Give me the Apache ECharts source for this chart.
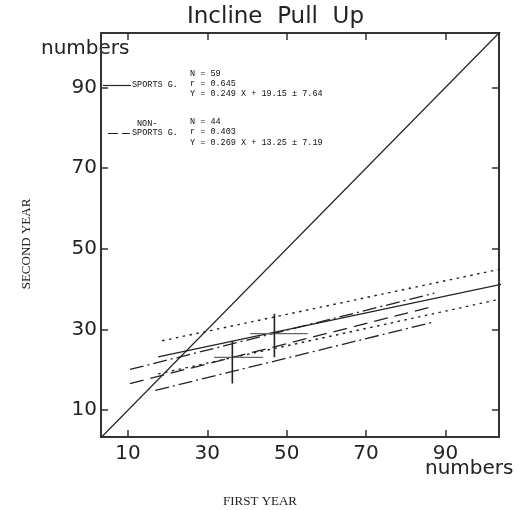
<!DOCTYPE html>
<html>
<head>
<meta charset="utf-8">
<script src="https://cdn.jsdelivr.net/npm/echarts@6/dist/echarts.min.js"></script>
<style>
  html, body { margin: 0; padding: 0; background: #fff; }
  #chart { width: 532px; height: 510px; }
</style>
</head>
<body>
<div id="chart"></div>
<script>
  // tick values (both axes)
  const xTicks = [10, 30, 50, 70, 90]
  const yTicks = [10, 30, 50, 70, 90]

  // line of equality
  const identity = [[0, 0], [110, 110]]

  // sports group: regression and band
  const sportsReg = [[17.6, 23.2], [104, 41.2]]
  const sportsUpper = [[18.6, 27.2], [104, 45.0]]
  const sportsLower = [[17.6, 19.0], [103.7, 37.5]]

  // non-sports group: regression and band
  const nonReg = [[10.5, 16.6], [87.2, 35.8]]
  const nonUpper = [[10.5, 20.1], [87.2, 39.0]]
  const nonLower = [[16.9, 14.9], [87.2, 31.9]]

  // means with SD bars
  const sportsMean = [46.9, 29.0]
  const sportsSdX = [40.8, 55.3]
  const sportsSdY = [23.1, 33.9]
  const nonMean = [36.3, 23.1]
  const nonSdX = [31.7, 44.0]
  const nonSdY = [16.6, 27.2]

  const ink = '#222'
  const mono = '"Liberation Mono", "DejaVu Sans Mono", monospace'
  const sans = '"DejaVu Sans", sans-serif'
  const serif = '"Liberation Serif", "DejaVu Serif", serif'

  function line (data, type, width, color) {
    return {
      type: 'line',
      data: data,
      symbol: 'none',
      silent: true,
      clip: true,
      lineStyle: { color: color || ink, width: width || 1.2, type: type || 'solid' }
    }
  }

  const chart = echarts.init(document.getElementById('chart'))

  const axisLine = { show: true, onZero: false, lineStyle: { color: '#333', width: 2 } }
  const tick = { show: true, inside: true, length: 7, customValues: xTicks, lineStyle: { color: '#333', width: 1.5 } }

  chart.setOption({
    animation: false,
    grid: { left: 101, top: 33, right: 33, bottom: 73 },
    xAxis: [
      {
        type: 'value', min: 3.2, max: 103.5, position: 'bottom',
        axisLine: axisLine, splitLine: { show: false },
        axisTick: tick,
        axisLabel: { customValues: xTicks, fontSize: 20, color: ink, fontFamily: sans, margin: 7 }
      },
      {
        type: 'value', min: 3.2, max: 103.5, position: 'top',
        axisLine: axisLine, splitLine: { show: false },
        axisTick: tick, axisLabel: { show: false }
      }
    ],
    yAxis: [
      {
        type: 'value', min: 3.35, max: 103.5, position: 'left',
        axisLine: axisLine, splitLine: { show: false },
        axisTick: Object.assign({}, tick, { customValues: yTicks }),
        axisLabel: { customValues: yTicks, fontSize: 20, color: ink, fontFamily: sans, margin: 4 }
      },
      {
        type: 'value', min: 3.35, max: 103.5, position: 'right',
        axisLine: axisLine, splitLine: { show: false },
        axisTick: Object.assign({}, tick, { customValues: yTicks }),
        axisLabel: { show: false }
      }
    ],
    series: [
      line(identity, 'solid', 1.3),
      line(sportsReg, 'solid', 1.3),
      line(sportsUpper, [2.5, 4.5], 1.4),
      line(sportsLower, [2.5, 4.5], 1.4),
      line(nonReg, [14, 7], 1.3),
      line(nonUpper, [14, 4, 2, 4], 1.3),
      line(nonLower, [14, 4, 2, 4], 1.3),
      line([[sportsSdX[0], sportsMean[1]], [sportsSdX[1], sportsMean[1]]], 'solid', 1.3, '#666'),
      line([[sportsMean[0], sportsSdY[0]], [sportsMean[0], sportsSdY[1]]], 'solid', 1.6),
      line([[nonSdX[0], nonMean[1]], [nonSdX[1], nonMean[1]]], 'solid', 1.3, '#666'),
      line([[nonMean[0], nonSdY[0]], [nonMean[0], nonSdY[1]]], 'solid', 1.6)
    ],
    graphic: [
      { type: 'text', left: 187, top: 6, style: { text: 'Incline  Pull  Up', fontSize: 23, fontFamily: sans, fill: ink } },
      { type: 'text', left: 41, top: 39, style: { text: 'numbers', fontSize: 20, fontFamily: sans, fill: ink } },
      { type: 'text', left: 425, top: 459, style: { text: 'numbers', fontSize: 20, fontFamily: sans, fill: ink } },
      { type: 'text', left: 223, top: 495, style: { text: 'FIRST YEAR', fontSize: 13, fontFamily: serif, fill: ink } },
      {
        type: 'text', x: 27, y: 244, rotation: Math.PI / 2,
        style: { text: 'SECOND YEAR', fontSize: 13, fontFamily: serif, fill: ink, align: 'center', verticalAlign: 'middle' }
      },
      // legend samples
      { type: 'line', shape: { x1: 103, y1: 85.5, x2: 131, y2: 85.5 }, style: { stroke: ink, lineWidth: 1.2 } },
      { type: 'line', shape: { x1: 108, y1: 133.5, x2: 130, y2: 133.5 }, style: { stroke: ink, lineWidth: 1.2, lineDash: [10, 4] } },
      { type: 'text', left: 132, top: 80, style: { text: 'SPORTS G.', fontSize: 8.5, fontFamily: mono, fill: '#111' } },
      { type: 'text', left: 137, top: 119, style: { text: 'NON-', fontSize: 8.5, fontFamily: mono, fill: '#111' } },
      { type: 'text', left: 132, top: 128, style: { text: 'SPORTS G.', fontSize: 8.5, fontFamily: mono, fill: '#111' } },
      {
        type: 'text', left: 190, top: 69,
        style: { text: 'N = 59\nr = 0.645\nY = 0.249 X + 19.15 \u00b1 7.64', fontSize: 8.5, lineHeight: 10, fontFamily: mono, fill: '#111' }
      },
      {
        type: 'text', left: 190, top: 116,
        style: { text: 'N = 44\nr = 0.403\nY = 0.269 X + 13.25 \u00b1 7.19', fontSize: 8.5, lineHeight: 10.5, fontFamily: mono, fill: '#111' }
      }
    ]
  })
</script>
</body>
</html>
